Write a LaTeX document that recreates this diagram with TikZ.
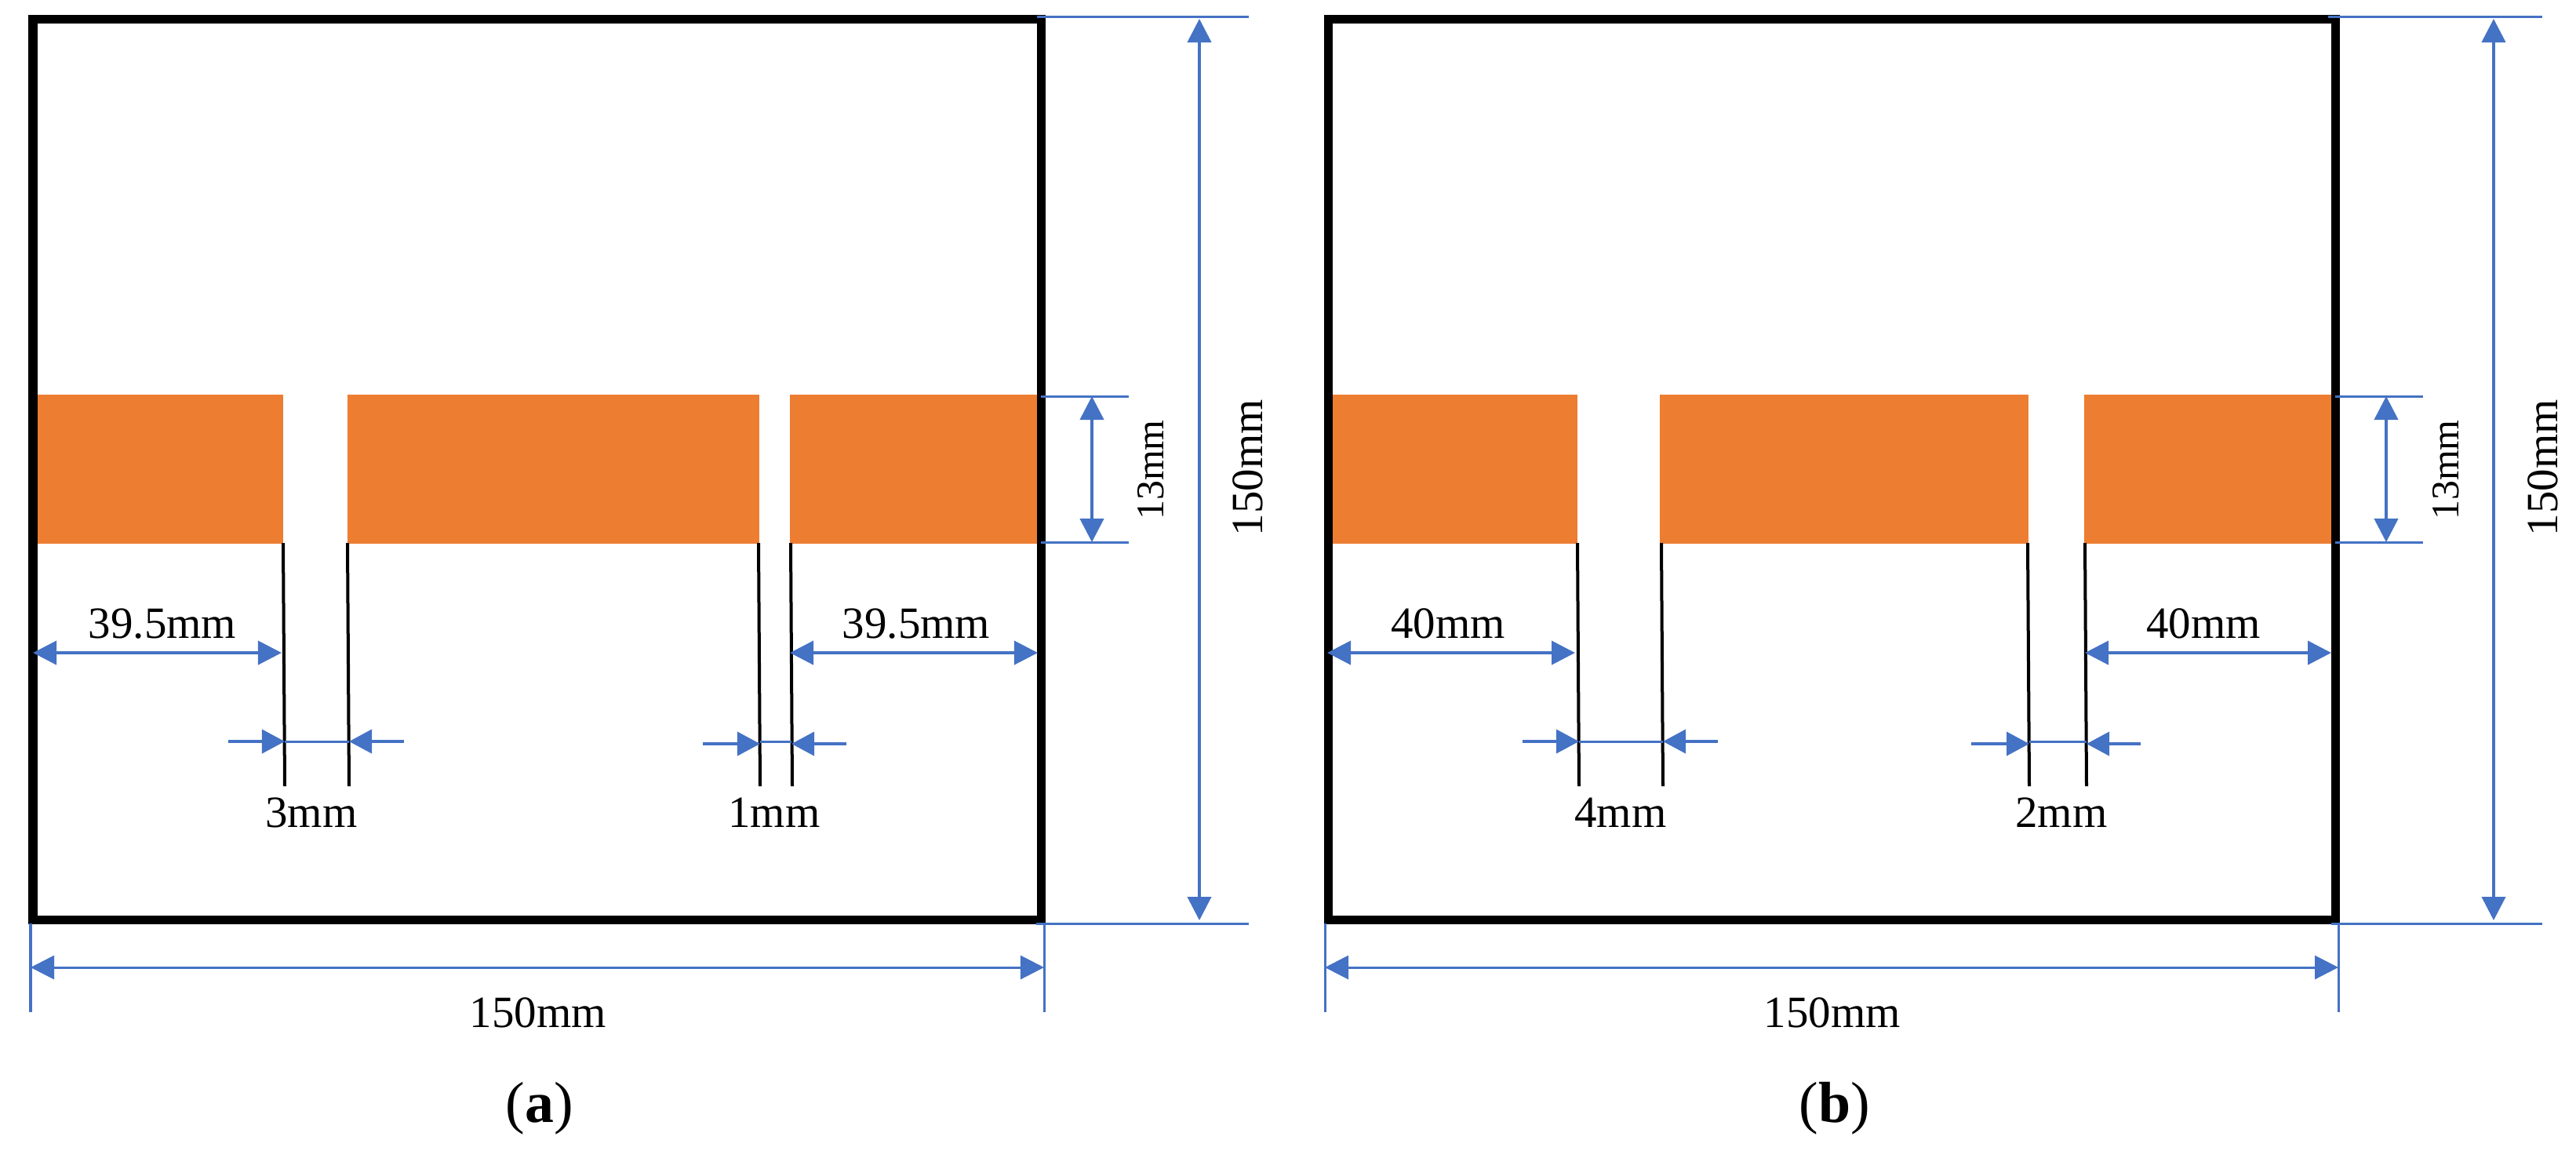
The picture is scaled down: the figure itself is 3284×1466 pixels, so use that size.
\documentclass[tikz,border=0pt]{standalone}
\usepackage{fontspec}
\setmainfont{Liberation Serif}
\usetikzlibrary{arrows.meta}
\definecolor{stripfill}{HTML}{ED7D31}
\definecolor{dimblue}{HTML}{4472C4}

\begin{document}
\begin{tikzpicture}[
    x=0.01cm, y=-0.01cm,
    plate/.style={draw=black, line width=0.11cm, miter limit=10},
    strip/.style={fill=stripfill},
    slit/.style={draw=black, line width=0.04cm},
    ext/.style={draw=dimblue, line width=0.03cm},
    dimtwo/.style={draw=dimblue, line width=0.04cm, {Triangle[length=0.3cm,width=0.3cm]}-{Triangle[length=0.3cm,width=0.3cm]}},
    dimone/.style={draw=dimblue, line width=0.04cm, -{Triangle[length=0.29cm,width=0.3cm]}},
    label/.style={anchor=base, font=\fontsize{16.2}{19}\selectfont, inner sep=0pt},
    smalllabel/.style={anchor=base, rotate=90, font=\fontsize{14.2}{17}\selectfont, inner sep=0pt},
    sidelabel/.style={anchor=base, rotate=90, font=\fontsize{16.2}{19}\selectfont, inner sep=0pt},
    caption/.style={anchor=base, font=\fontsize{21}{25}\selectfont, inner sep=0pt}
]
    \useasboundingbox (0,0) rectangle (3284,1466);

    % panel a
    \fill[strip] (47,503) rectangle (361,693);
    \fill[strip] (443,503) rectangle (968,693);
    \fill[strip] (1007,503) rectangle (1322,693);
    \draw[plate] (42,24) rectangle (1327,1172);
    \draw[slit] (361,692) -- (363,1002);
    \draw[slit] (443,692) -- (445,1002);
    \draw[slit] (967,692) -- (969,1002);
    \draw[slit] (1008,692) -- (1010,1002);

    \coordinate (atl) at (1322,21);
    \coordinate (atr) at (1592,21);
    \coordinate (abl) at (1321,1177);
    \coordinate (abr) at (1592,1177);
    \draw[ext] (atl) -- (atr);
    \draw[ext] (abl) -- (abr);
    \draw[ext] (1327,505) -- (1439,505);
    \draw[ext] (1327,691) -- (1439,691);
    \draw[ext] (39,1177) -- (39,1290);
    \draw[ext] (1331,1177) -- (1331,1290);

    \draw[dimtwo] (42,832) -- (359,832);
    \draw[dimtwo] (1007,832) -- (1323,832);
    \draw[dimtwo] (1392,505) -- (1392,691);
    \draw[dimtwo] (1529,24) -- (1529,1173);
    \draw[dimtwo, line width=0.03cm] (39,1233) -- (1331,1233);
    \draw[dimone] (291,945) -- (363,945);
    \draw[dimone] (515,945) -- (445,945);
    \draw[ext] (363,945) -- (445,945);
    \draw[dimone] (896,948) -- (969,948);
    \draw[dimone] (1079,948) -- (1009,948);
    \draw[ext] (969,945) -- (1009,945);

    \node[label] (aleft) at (207,813) {39.5mm};
    \node[label] (aright) at (1168,813) {39.5mm};
    \node[label] (agapl) at (397,1054) {3mm};
    \node[label] (agapr) at (987,1054) {1mm};
    \node[label] (awidth) at (686,1309) {150mm};
    \node[smalllabel] (astrip) at (1483,599) {13mm};
    \node[sidelabel] (aheight) at (1609,596) {150mm};
    \node[caption] (acap) at (688,1430) {(\textbf{a})};

    % panel b
    \fill[strip] (1698,503) rectangle (2011,693);
    \fill[strip] (2116,503) rectangle (2586,693);
    \fill[strip] (2657,503) rectangle (2972,693);
    \draw[plate] (1693,24) rectangle (2977,1172);
    \draw[slit] (2011,692) -- (2013,1002);
    \draw[slit] (2118,692) -- (2120,1002);
    \draw[slit] (2585,692) -- (2587,1002);
    \draw[slit] (2658,692) -- (2660,1002);

    \coordinate (btl) at (2968,21);
    \coordinate (btr) at (3241,21);
    \coordinate (bbl) at (2972,1177);
    \coordinate (bbr) at (3241,1177);
    \draw[ext] (btl) -- (btr);
    \draw[ext] (bbl) -- (bbr);
    \draw[ext] (2977,505) -- (3089,505);
    \draw[ext] (2977,691) -- (3089,691);
    \draw[ext] (1689,1177) -- (1689,1290);
    \draw[ext] (2981,1177) -- (2981,1290);

    \draw[dimtwo] (1692,832) -- (2008,832);
    \draw[dimtwo] (2658,832) -- (2972,832);
    \draw[dimtwo] (3042,505) -- (3042,691);
    \draw[dimtwo] (3179,24) -- (3179,1173);
    \draw[dimtwo, line width=0.03cm] (1689,1233) -- (2981,1233);
    \draw[dimone] (1941,945) -- (2013,945);
    \draw[dimone] (2190,945) -- (2120,945);
    \draw[ext] (2013,945) -- (2120,945);
    \draw[dimone] (2513,948) -- (2587,948);
    \draw[dimone] (2729,948) -- (2660,948);
    \draw[ext] (2587,945) -- (2660,945);

    \node[label] (bleft) at (1846,813) {40mm};
    \node[label] (bright) at (2809,813) {40mm};
    \node[label] (bgapl) at (2066,1054) {4mm};
    \node[label] (bgapr) at (2628,1054) {2mm};
    \node[label] (bwidth) at (2336,1309) {150mm};
    \node[smalllabel] (bstrip) at (3134,599) {13mm};
    \node[sidelabel] (bheight) at (3260,596) {150mm};
    \node[caption] (bcap) at (2339,1430) {(\textbf{b})};
\end{tikzpicture}
\end{document}
